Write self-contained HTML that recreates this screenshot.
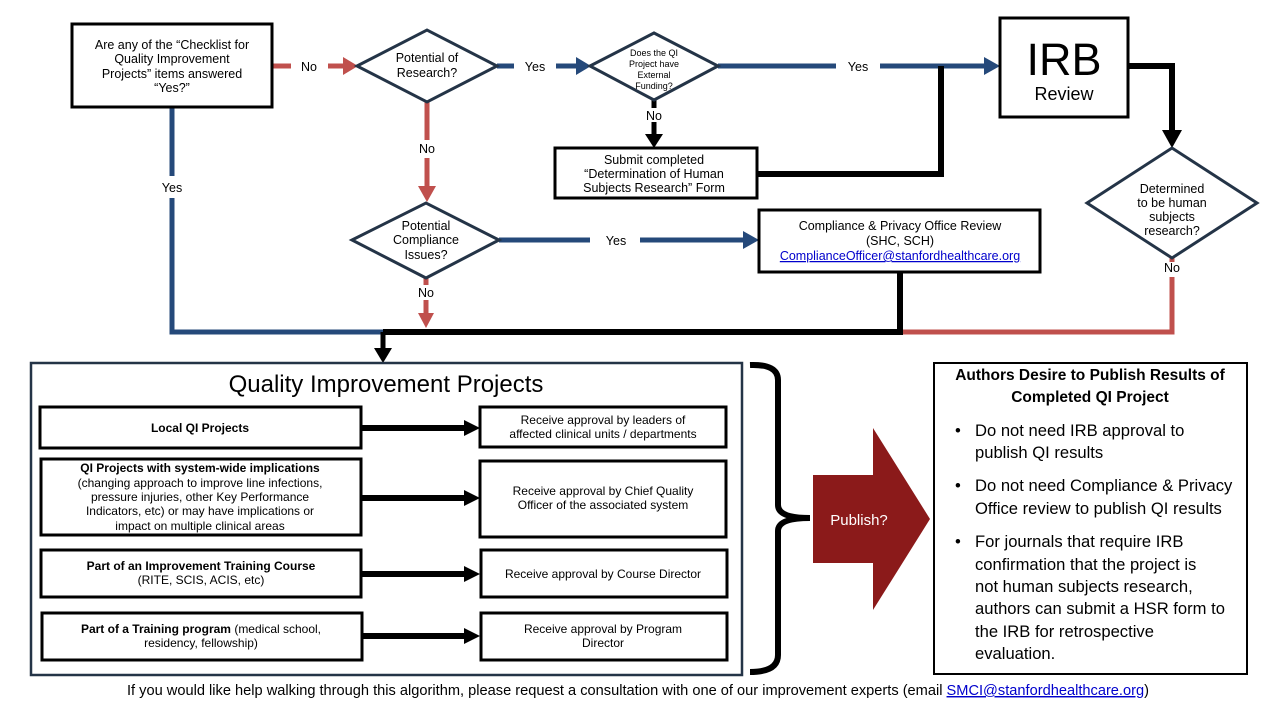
<!DOCTYPE html>
<html><head><meta charset="utf-8"><style>
html,body{margin:0;padding:0;background:#fff;}
svg{display:block;font-family:"Liberation Sans",sans-serif;}
</style></head><body>
<svg width="1280" height="720" viewBox="0 0 1280 720" xmlns="http://www.w3.org/2000/svg">
<rect width="1280" height="720" fill="#fff"/>
<g fill="none" stroke-width="5">
 <line x1="272" y1="66" x2="291" y2="66" stroke="#c0504d"/>
 <line x1="328" y1="66" x2="345" y2="66" stroke="#c0504d"/>
 <line x1="497" y1="66" x2="514" y2="66" stroke="#25497a"/>
 <line x1="556" y1="66" x2="578" y2="66" stroke="#25497a"/>
 <line x1="718" y1="66" x2="836" y2="66" stroke="#25497a"/>
 <line x1="880" y1="66" x2="986" y2="66" stroke="#25497a"/>
 <polyline points="1128,66 1172,66 1172,132" stroke="#000" stroke-width="6"/>
 <line x1="1172" y1="258" x2="1172" y2="262" stroke="#c0504d"/>
 <polyline points="1172,277 1172,332 900,332" stroke="#c0504d"/>
 <line x1="654" y1="100" x2="654" y2="108" stroke="#000"/>
 <line x1="654" y1="122" x2="654" y2="136" stroke="#000"/>
 <polyline points="757,174 941,174 941,66" stroke="#000" stroke-width="6"/>
 <line x1="427" y1="102" x2="427" y2="140" stroke="#c0504d"/>
 <line x1="427" y1="158" x2="427" y2="188" stroke="#c0504d"/>
 <line x1="499" y1="240" x2="590" y2="240" stroke="#25497a"/>
 <line x1="640" y1="240" x2="745" y2="240" stroke="#25497a"/>
 <line x1="426" y1="278" x2="426" y2="285" stroke="#c0504d"/>
 <line x1="426" y1="300" x2="426" y2="315" stroke="#c0504d"/>
 <polyline points="900,272 900,332 383,332" stroke="#000" stroke-width="6"/>
 <polyline points="172,107 172,176" stroke="#25497a"/>
 <polyline points="172,198 172,332 383,332" stroke="#25497a"/>
 <line x1="383" y1="332" x2="383" y2="350" stroke="#000"/>
 <line x1="361" y1="428" x2="466" y2="428" stroke="#000" stroke-width="6"/>
 <line x1="361" y1="498" x2="466" y2="498" stroke="#000" stroke-width="6"/>
 <line x1="361" y1="574" x2="466" y2="574" stroke="#000" stroke-width="6"/>
 <line x1="361" y1="636" x2="466" y2="636" stroke="#000" stroke-width="6"/>
</g>
<polygon points="343,57 358,66 343,75" fill="#c0504d"/>
<polygon points="576,57 591,66 576,75" fill="#25497a"/>
<polygon points="984,57 1000,66 984,75" fill="#25497a"/>
<polygon points="1162,130 1182,130 1172,148" fill="#000"/>
<polygon points="645,134 663,134 654,148" fill="#000"/>
<polygon points="418,186 436,186 427,202" fill="#c0504d"/>
<polygon points="743,231 759,240 743,249" fill="#25497a"/>
<polygon points="418,313 434,313 426,328" fill="#c0504d"/>
<polygon points="374,348 392,348 383,363" fill="#000"/>
<polygon points="464,420 480,428 464,436" fill="#000"/>
<polygon points="464,490 480,498 464,506" fill="#000"/>
<polygon points="464,566 480,574 464,582" fill="#000"/>
<polygon points="464,628 480,636 464,644" fill="#000"/>

<g fill="#fff" stroke="#000" stroke-width="3">
 <rect x="72" y="24" width="200" height="83"/>
 <rect x="1000" y="18" width="128" height="99"/>
 <rect x="555" y="148" width="202" height="50"/>
 <rect x="759" y="210" width="281" height="62"/>
</g>
<g fill="#fff" stroke="#243447" stroke-width="3">
 <polygon points="357,66 427,30 497,66 427,102"/>
 <polygon points="590,66 654,33 718,66 654,100"/>
 <polygon points="1087,203 1172,148 1257,203 1172,258"/>
 <polygon points="352,240 426,203 499,240 426,278"/>
</g>

<g font-size="12.5" text-anchor="middle" fill="#000">
 <text x="172" y="49">Are any of the “Checklist for</text>
 <text x="172" y="63">Quality Improvement</text>
 <text x="172" y="78">Projects” items answered</text>
 <text x="172" y="92">“Yes?”</text>
 <text x="309" y="71">No</text>
 <text x="427" y="62">Potential of</text>
 <text x="427" y="77">Research?</text>
 <text x="535" y="71">Yes</text>
 <g font-size="9"><text x="654" y="56">Does the QI</text><text x="654" y="67">Project have</text><text x="654" y="78">External</text><text x="654" y="89">Funding?</text></g>
 <text x="654" y="120">No</text>
 <text x="858" y="71">Yes</text>
 <text x="1064" y="75" font-size="45">IRB</text>
 <text x="1064" y="100" font-size="18">Review</text>
 <text x="654" y="164">Submit completed</text>
 <text x="654" y="178">“Determination of Human</text>
 <text x="654" y="192">Subjects Research” Form</text>
 <text x="427" y="153">No</text>
 <text x="172" y="192">Yes</text>
 <text x="426" y="230">Potential</text>
 <text x="426" y="244">Compliance</text>
 <text x="426" y="259">Issues?</text>
 <text x="616" y="245">Yes</text>
 <text x="426" y="297">No</text>
 <text x="900" y="230">Compliance &amp; Privacy Office Review</text>
 <text x="900" y="245">(SHC, SCH)</text>
 <text x="900" y="260" fill="#0000cc" text-decoration="underline">ComplianceOfficer@stanfordhealthcare.org</text>
 <text x="1172" y="193">Determined</text>
 <text x="1172" y="207">to be human</text>
 <text x="1172" y="221">subjects</text>
 <text x="1172" y="235">research?</text>
 <text x="1172" y="272">No</text>
</g>

<rect x="31" y="363" width="711" height="312" fill="none" stroke="#243447" stroke-width="2.5"/>
<text x="386" y="392" font-size="24" text-anchor="middle">Quality Improvement Projects</text>
<g fill="#fff" stroke="#000" stroke-width="3">
 <rect x="40" y="407" width="321" height="41"/>
 <rect x="480" y="407" width="246" height="40"/>
 <rect x="41" y="459" width="320" height="76"/>
 <rect x="480" y="461" width="246" height="76"/>
 <rect x="41" y="550" width="320" height="47"/>
 <rect x="481" y="550" width="246" height="47"/>
 <rect x="42" y="613" width="320" height="47"/>
 <rect x="481" y="613" width="246" height="47"/>
</g>
<g font-size="12" text-anchor="middle">
 <text x="200" y="432" font-weight="bold">Local QI Projects</text>
 <text x="603" y="424">Receive approval by leaders of</text>
 <text x="603" y="438">affected clinical units / departments</text>
 <text x="200" y="472" font-weight="bold">QI Projects with system-wide implications</text>
 <text x="200" y="487">(changing approach to improve line infections,</text>
 <text x="200" y="501">pressure injuries, other Key Performance</text>
 <text x="200" y="515">Indicators, etc) or may have implications or</text>
 <text x="200" y="530">impact on multiple clinical areas</text>
 <text x="603" y="495">Receive approval by Chief Quality</text>
 <text x="603" y="509">Officer of the associated system</text>
 <text x="201" y="570" font-weight="bold">Part of an Improvement Training Course</text>
 <text x="201" y="584">(RITE, SCIS, ACIS, etc)</text>
 <text x="603" y="578">Receive approval by Course Director</text>
 <text x="201" y="633"><tspan font-weight="bold">Part of a Training program</tspan> (medical school,</text>
 <text x="201" y="647">residency, fellowship)</text>
 <text x="603" y="633">Receive approval by Program</text>
 <text x="603" y="647">Director</text>
</g>

<path d="M750,365 Q778,364 778,380 L778,505 Q778,518 810,518 Q778,518 778,531 L778,655 Q778,672 750,672" fill="none" stroke="#000" stroke-width="6"/>
<polygon points="813,475 873,475 873,428 930,519 873,610 873,563 813,563" fill="#8b1a1a"/>
<text x="859" y="525" font-size="15" fill="#fff" text-anchor="middle">Publish?</text>

<rect x="934" y="363" width="313" height="311" fill="#fff" stroke="#000" stroke-width="2"/>
<g font-size="16.6" fill="#000">
 <text x="1090" y="380" text-anchor="middle" font-weight="bold" font-size="15.5">Authors Desire to Publish Results of</text>
 <text x="1090" y="402" text-anchor="middle" font-weight="bold" font-size="15.5">Completed QI Project</text>
 <text x="955" y="436">•</text><text x="975" y="436">Do not need IRB approval to</text>
 <text x="975" y="458">publish QI results</text>
 <text x="955" y="491">•</text><text x="975" y="491">Do not need Compliance &amp; Privacy</text>
 <text x="975" y="514">Office review to publish QI results</text>
 <text x="955" y="547">•</text><text x="975" y="547">For journals that require IRB</text>
 <text x="975" y="570">confirmation that the project is</text>
 <text x="975" y="592">not human subjects research,</text>
 <text x="975" y="614">authors can submit a HSR form to</text>
 <text x="975" y="637">the IRB for retrospective</text>
 <text x="975" y="659">evaluation.</text>
</g>
<text x="638" y="695" font-size="14.5" text-anchor="middle" textLength="1022" lengthAdjust="spacingAndGlyphs">If you would like help walking through this algorithm, please request a consultation with one of our improvement experts (email <tspan fill="#0000cc" text-decoration="underline">SMCI@stanfordhealthcare.org</tspan>)</text>
</svg>
</body></html>
